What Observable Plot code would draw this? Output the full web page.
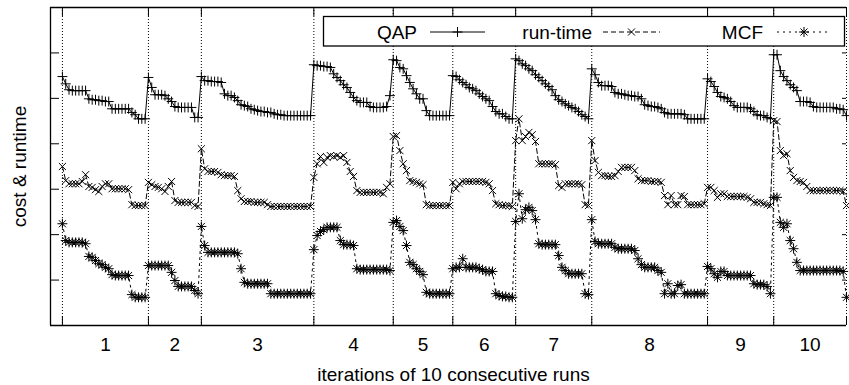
<!DOCTYPE html>
<html>
<head>
<meta charset="utf-8">
<script src="https://cdn.jsdelivr.net/npm/d3@7"></script>
<script src="https://cdn.jsdelivr.net/npm/@observablehq/plot@0.6"></script>
<style>
html, body { margin: 0; padding: 0; background: #fff; }
svg { display: block; }
</style>
</head>
<body>
<div id="chart"></div>
<script>
// ---- data ---------------------------------------------------------------
const runLabels = ["1", "2", "3", "4", "5", "6", "7", "8", "9", "10"];
// iteration index at which each run starts (last entry = final iteration)
const runStarts = [0, 26, 42, 76, 100, 118, 137, 160, 195, 215, 237];
const seriesNames = ["QAP", "run-time", "MCF"];
const xTitle = "iterations of 10 consecutive runs";
const yTitle = "cost & runtime";
const yTicks = [100, 200, 300, 400, 500, 600];
const xDomain = [-3.6, 237];
const yDomain = [0, 700];

const qap = [
  548, 532, 519, 517, 517, 517, 517, 517, 499, 497, 497, 495, 495, 493, 493, 477, 477, 477, 477, 477, 477, 469, 464, 455, 455, 455,
  546, 524, 508, 508, 508, 506, 499, 493, 482, 480, 480, 480, 480, 480, 458, 458,
  548, 539, 539, 537, 537, 537, 535, 510, 506, 506, 502, 495, 486, 484, 482, 477, 475, 473, 471, 471, 469, 469, 466, 464, 464, 462, 462, 462, 462, 462, 462, 462, 462, 462,
  574, 572, 572, 570, 570, 568, 554, 546, 539, 530, 524, 513, 502, 495, 491, 491, 491, 482, 480, 480, 480, 480, 482, 506,
  585, 583, 568, 565, 550, 535, 521, 510, 499, 499, 473, 462, 462, 462, 462, 462, 462, 462,
  550, 548, 541, 535, 530, 524, 521, 517, 510, 504, 499, 495, 482, 471, 466, 466, 460, 455, 455,
  587, 583, 576, 572, 565, 561, 552, 546, 539, 532, 526, 519, 506, 497, 493, 488, 484, 480, 477, 471, 464, 460, 455,
  565, 552, 535, 528, 528, 528, 526, 513, 510, 510, 508, 506, 506, 504, 504, 499, 486, 484, 482, 482, 480, 477, 469, 466, 466, 466, 466, 466, 464, 455, 455, 455, 455, 455, 455,
  543, 537, 526, 513, 504, 502, 499, 493, 484, 480, 480, 480, 480, 477, 471, 464, 462, 462, 458, 455,
  596, 596, 561, 548, 539, 530, 524, 517, 493, 493, 493, 491, 482, 480, 480, 480, 480, 480, 480, 477, 477, 475,
  462
];

const runtime = [
  350, 319, 312, 312, 312, 312, 317, 332, 306, 304, 299, 295, 306, 312, 312, 301, 301, 301, 301, 301, 299, 266, 264, 264, 264, 264,
  315, 310, 306, 304, 301, 295, 306, 317, 275, 271, 271, 271, 271, 271, 264, 262,
  389, 345, 339, 339, 339, 337, 332, 330, 330, 330, 328, 297, 279, 273, 273, 273, 271, 271, 271, 271, 266, 262, 262, 262, 262, 262, 262, 262, 262, 262, 262, 262, 262, 262,
  326, 356, 372, 359, 370, 374, 372, 374, 370, 374, 359, 339, 328, 297, 293, 293, 293, 293, 293, 293, 293, 290, 304, 312,
  416, 418, 385, 356, 341, 319, 317, 315, 312, 310, 266, 264, 264, 264, 264, 264, 264, 264,
  315, 301, 312, 317, 317, 317, 317, 317, 317, 317, 315, 312, 297, 268, 266, 264, 264, 264, 262,
  407, 455, 407, 416, 425, 420, 405, 356, 356, 356, 356, 356, 354, 308, 304, 312, 312, 312, 312, 312, 310, 266, 264,
  407, 363, 337, 330, 330, 328, 328, 330, 339, 348, 348, 348, 348, 341, 323, 319, 319, 319, 317, 317, 317, 315, 286, 266, 286, 266, 266, 286, 284, 266, 266, 266, 266, 266, 268,
  304, 304, 297, 282, 290, 290, 284, 284, 284, 284, 284, 284, 282, 279, 271, 271, 271, 268, 266, 264,
  451, 449, 385, 374, 378, 341, 326, 319, 317, 315, 306, 297, 297, 297, 297, 297, 297, 297, 297, 297, 297, 295,
  264
];

const mcf = [
  224, 187, 183, 183, 183, 183, 183, 180, 152, 150, 143, 136, 134, 128, 125, 112, 110, 110, 110, 110, 110, 68, 62, 62, 62, 62,
  132, 132, 132, 132, 132, 132, 132, 117, 99, 86, 86, 86, 86, 86, 77, 70,
  218, 176, 161, 161, 161, 161, 161, 161, 161, 161, 161, 158, 125, 95, 92, 92, 92, 92, 92, 92, 92, 70, 70, 70, 70, 70, 70, 70, 70, 70, 70, 70, 70, 70,
  167, 198, 207, 211, 216, 216, 216, 216, 187, 178, 178, 178, 176, 125, 123, 123, 123, 123, 123, 123, 123, 123, 123, 121,
  227, 231, 218, 209, 176, 139, 134, 125, 119, 112, 73, 70, 70, 70, 70, 70, 70, 70,
  125, 128, 128, 147, 128, 128, 128, 128, 125, 123, 119, 119, 119, 70, 66, 64, 64, 62, 62,
  229, 290, 235, 255, 260, 253, 233, 180, 178, 178, 178, 178, 178, 154, 128, 121, 114, 114, 114, 114, 114, 70, 68,
  233, 185, 180, 180, 180, 180, 180, 172, 169, 169, 169, 169, 169, 165, 147, 134, 128, 128, 128, 128, 121, 117, 70, 92, 70, 70, 88, 90, 70, 70, 70, 70, 70, 70, 70,
  130, 125, 114, 106, 119, 119, 110, 110, 110, 110, 110, 110, 110, 110, 92, 90, 90, 90, 86, 70,
  282, 282, 227, 216, 224, 187, 169, 139, 121, 121, 121, 121, 121, 121, 121, 121, 121, 121, 121, 121, 121, 119,
  62
];

// ---- chart --------------------------------------------------------------
const ink = "#000";
const font = "'Liberation Sans', Arial, Helvetica, sans-serif";
const fs = 19;
const idx = (d, i) => i;
const val = (d) => d;
const mids = runLabels.map((_, k) => (runStarts[k] + runStarts[k + 1]) / 2);
const labelAt = new Map(mids.map((m, k) => [m, runLabels[k]]));

const R = 3.3; // marker radius
const qapDash = null, rtDash = "5,3", mcfDash = "2,4";

const chart = Plot.plot({
  width: 849,
  height: 385,
  marginLeft: 50,
  marginRight: 3,
  marginTop: 7,
  marginBottom: 60,
  style: { fontFamily: font, fontSize: fs + "px", color: ink, background: "#fff", overflow: "visible" },
  x: { domain: xDomain },
  y: { domain: yDomain, axis: null },
  marks: [
    // run separators (dotted) and ticks
    Plot.ruleX(runStarts, { stroke: ink, strokeWidth: 1, strokeDasharray: "1,2" }),
    Plot.tickX(runStarts, { stroke: ink, strokeWidth: 1, insetTop: 309 }),
    Plot.tickX(runStarts, { stroke: ink, strokeWidth: 1, insetBottom: 309 }),
    Plot.tickY(yTicks, { stroke: ink, strokeWidth: 1, insetRight: 787 }),
    Plot.tickY(yTicks, { stroke: ink, strokeWidth: 1, insetLeft: 792 }),
    // border (bottom, top, left)
    Plot.ruleY([yDomain[0]], { stroke: ink, strokeWidth: 1.3 }),
    Plot.ruleY([yDomain[1]], { stroke: ink, strokeWidth: 1.3 }),
    Plot.ruleX([xDomain[0]], { stroke: ink, strokeWidth: 1.3 }),
    // x labels
    Plot.axisX(mids, { anchor: "bottom", tickSize: 0, tickPadding: 12, label: null, tickFormat: (d) => labelAt.get(d), fontSize: fs, fill: ink }),
    Plot.text([xTitle], { text: val, frameAnchor: "bottom", textAnchor: "middle", dy: 55, dx: 5, lineAnchor: "bottom", fontSize: fs, fill: ink }),
    Plot.text([yTitle], { text: val, frameAnchor: "left", textAnchor: "middle", rotate: -90, dx: -25, lineAnchor: "bottom", fontSize: fs, fill: ink }),
    // series
    Plot.line(qap, { x: idx, y: val, stroke: ink, strokeWidth: 1 }),
    Plot.line(runtime, { x: idx, y: val, stroke: ink, strokeWidth: 1, strokeDasharray: rtDash }),
    Plot.line(mcf, { x: idx, y: val, stroke: ink, strokeWidth: 1, strokeDasharray: mcfDash }),
    Plot.dot(qap, { x: idx, y: val, symbol: "plus", r: R, stroke: ink, fill: "none", strokeWidth: 1 }),
    Plot.dot(runtime, { x: idx, y: val, symbol: "times", r: R, stroke: ink, fill: "none", strokeWidth: 1 }),
    Plot.dot(mcf, { x: idx, y: val, symbol: "plus", r: R, stroke: ink, fill: "none", strokeWidth: 1 }),
    Plot.dot(mcf, { x: idx, y: val, symbol: "times", r: R, stroke: ink, fill: "none", strokeWidth: 1 })
  ]
});

document.getElementById("chart").appendChild(chart);

// ---- key (inside the plot area, top right) --------------------------------
const svg = d3.select(chart);
const key = svg.append("g").attr("font-family", font).attr("font-size", fs).attr("fill", ink);
key.append("rect")
  .attr("x", 323.5).attr("y", 16.5).attr("width", 521).attr("height", 29.5)
  .attr("fill", "#fff").attr("stroke", ink).attr("stroke-width", 1.3);
const keyRows = [
  { name: seriesNames[0], end: 417, x1: 430, x2: 485, dash: qapDash, syms: [d3.symbolPlus] },
  { name: seriesNames[1], end: 592, x1: 603, x2: 660, dash: rtDash, syms: [d3.symbolTimes] },
  { name: seriesNames[2], end: 763, x1: 777, x2: 831, dash: mcfDash, syms: [d3.symbolPlus, d3.symbolTimes] }
];
const ky = 32;
for (const row of keyRows) {
  key.append("text").attr("x", row.end).attr("y", ky + 6.5).attr("text-anchor", "end").text(row.name);
  key.append("line").attr("x1", row.x1).attr("x2", row.x2).attr("y1", ky).attr("y2", ky)
    .attr("stroke", ink).attr("stroke-width", 1).attr("stroke-dasharray", row.dash);
  for (const s of row.syms) {
    key.append("path")
      .attr("transform", `translate(${(row.x1 + row.x2) / 2},${ky})`)
      .attr("d", d3.symbol(s, R * R * Math.PI)())
      .attr("fill", "none").attr("stroke", ink).attr("stroke-width", 1);
  }
}
</script>
</body>
</html>
